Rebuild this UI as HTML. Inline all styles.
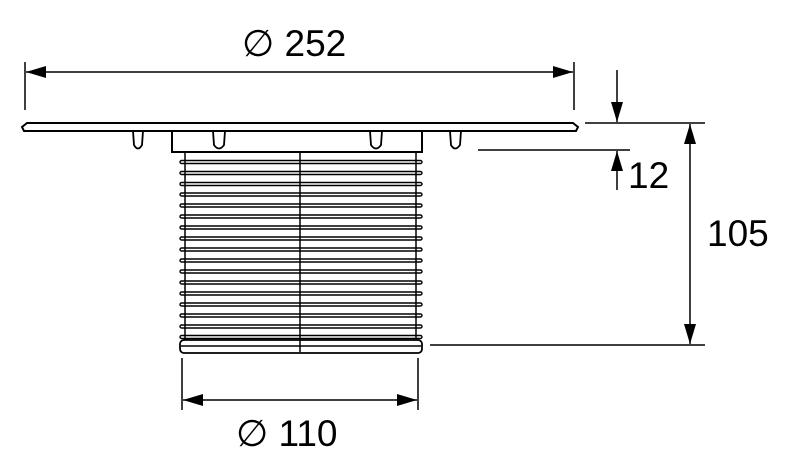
<!DOCTYPE html><html><head><style>body{margin:0;background:#fff}svg{display:block}</style></head><body>
<svg width="800" height="463" viewBox="0 0 800 463" xmlns="http://www.w3.org/2000/svg">
<defs><marker id="a" markerWidth="20" markerHeight="12" refX="20" refY="6" orient="auto-start-reverse" markerUnits="userSpaceOnUse"><path d="M0,0L20,6L0,12z" fill="#000"/></marker></defs>
<g stroke="#000" stroke-width="1.5" fill="none">
<line x1="25" y1="62" x2="25" y2="110"/><line x1="574" y1="62" x2="574" y2="110"/>
<line x1="26" y1="72" x2="573" y2="72" marker-start="url(#a)" marker-end="url(#a)"/>
<line x1="585" y1="123" x2="705" y2="123"/><line x1="478" y1="150" x2="630" y2="150"/>
<line x1="617" y1="70" x2="617" y2="122" marker-end="url(#a)"/>
<line x1="617" y1="190" x2="617" y2="151" marker-end="url(#a)"/>
<line x1="690" y1="124" x2="690" y2="344" marker-start="url(#a)" marker-end="url(#a)"/>
<line x1="430" y1="345" x2="705" y2="345"/>
<line x1="182" y1="358" x2="182" y2="410"/><line x1="418" y1="358" x2="418" y2="410"/>
<line x1="183" y1="400" x2="417" y2="400" marker-start="url(#a)" marker-end="url(#a)"/>
<path d="M27,123L573,123L578,127L576,131L24,131L22,127Z" stroke-width="2"/>
<rect x="172" y="131" width="250" height="21" stroke-width="2"/>
<g stroke-width="1.8">
<path d="M133,131L134,145Q138,152 142,145L143,131"/>
<path d="M213,131L214,145Q219,152 224,145L225,131"/>
<path d="M370,131L371,145Q376,152 381,145L382,131"/>
<path d="M450,131L451,145Q455,152 460,145L461,131"/>
</g>
<line x1="185" y1="152" x2="185" y2="340"/><line x1="416" y1="152" x2="416" y2="340"/>
<line x1="300" y1="152" x2="300" y2="352"/>
<g stroke-width="1.4">
<rect x="180" y="160.5" width="242" height="3" rx="1.5"/><rect x="180" y="171.5" width="242" height="3" rx="1.5"/>
<rect x="180" y="182.5" width="242" height="3" rx="1.5"/><rect x="180" y="193" width="242" height="3" rx="1.5"/>
<rect x="180" y="204" width="242" height="3" rx="1.5"/><rect x="180" y="215" width="242" height="3" rx="1.5"/>
<rect x="180" y="226" width="242" height="3" rx="1.5"/><rect x="180" y="237" width="242" height="3" rx="1.5"/>
<rect x="180" y="248" width="242" height="3" rx="1.5"/><rect x="180" y="259" width="242" height="3" rx="1.5"/>
<rect x="180" y="270" width="242" height="3" rx="1.5"/><rect x="180" y="281" width="242" height="3" rx="1.5"/>
<rect x="180" y="292" width="242" height="3" rx="1.5"/><rect x="180" y="303" width="242" height="3" rx="1.5"/>
<rect x="180" y="314" width="242" height="3" rx="1.5"/><rect x="180" y="325" width="242" height="3" rx="1.5"/>
<rect x="180" y="335.5" width="242" height="3" rx="1.5"/>
<rect x="180" y="340" width="242" height="13" rx="4" stroke-width="1.8"/>
<line x1="181" y1="346" x2="421" y2="346"/>
</g>
</g>
<g font-family="Liberation Sans, sans-serif" font-size="37" fill="#000">
<text x="242" y="56">∅ 252</text>
<text x="628" y="188">12</text>
<text x="707" y="246">105</text>
<text x="236" y="446">∅ 110</text>
</g>
</svg></body></html>
